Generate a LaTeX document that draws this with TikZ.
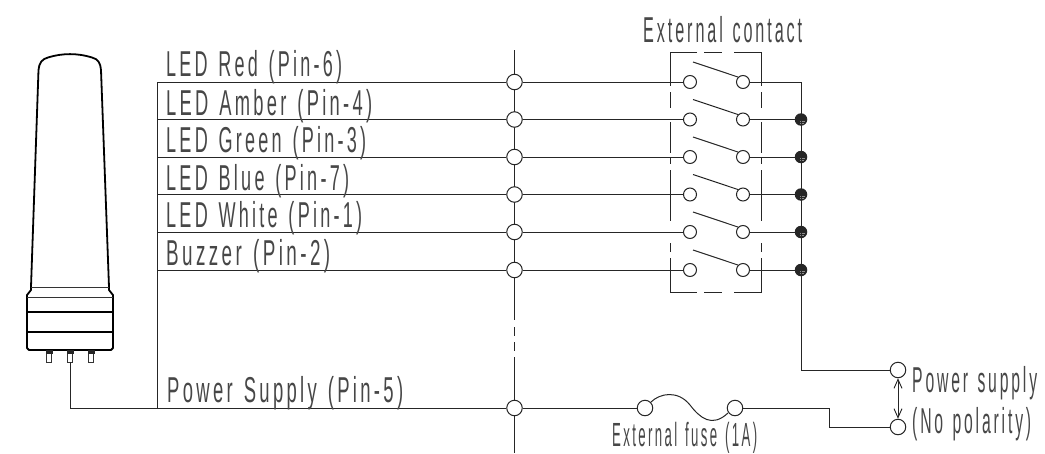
\documentclass[tikz,border=0pt]{standalone}
\usepackage{graphicx}
\usepackage{fontspec}
\setmainfont[FakeStretch=0.5,LetterSpace=9,WordSpace=1.3]{Liberation Sans}
\usetikzlibrary{arrows.meta}
\newcommand{\fitw}[2]{\resizebox{#1pt}{\height}{#2}}
\tikzset{
 wire/.style={line width=1pt,draw=black!85},
 thick line/.style={line width=1.8pt,draw=black},
 thin line/.style={line width=0.8pt,draw=black!80},
 term/.style={circle,draw=black!85,line width=1pt,fill=white,minimum size=13pt,inner sep=0pt},
 bigterm/.style={circle,draw=black!85,line width=1pt,fill=white,minimum size=15.5pt,inner sep=0pt},
 joint/.style={circle,fill=black!85,minimum size=12.5pt,inner sep=0pt},
 lab/.style={anchor=base west,inner sep=0pt,font=\fontsize{36}{36}\selectfont,text=black!72},
}
\begin{document}
\begin{tikzpicture}[x=1pt,y=-1pt]
\useasboundingbox (0,0) rectangle (1045,453);
% lamp
\draw[thick line,line join=round] (31,287) -- (38.5,70) .. controls (39,63) and (42,59) .. (48,57.5) .. controls (62,53) and (78,53) .. (92,57.5) .. controls (98,59) and (100.5,63) .. (101,70) -- (109,287);
\draw[thick line,line join=round] (31,287) -- (31,290) -- (27,295) -- (27,348) -- (29,350) -- (111,350) -- (113,348) -- (113,295) -- (109,290) -- (109,287);
\draw[thin line] (31,287) -- (109,287);
\draw[thin line] (27,297) -- (113,297);
\draw[thick line] (27,312) -- (113,312);
\draw[thick line] (27,332) -- (113,332);
\foreach \px/\pn in {49/a,70/b,91/c}{
  \fill[black!85] (\px-3.5,350) rectangle (\px+3.5,354);
  \draw[thin line] (\px-2.2,354) -- (\px-2.2,362) -- (\px+2.2,362) -- (\px+2.2,354);
}
\coordinate (pin) at (70,362);
% bus
\coordinate (busbot) at (157.5,408);
\coordinate (bustop) at (157.5,82);
\coordinate (ctop) at (514,50);
\coordinate (cbot) at (514,453);
\coordinate (cm1) at (514,320);
\coordinate (cm2) at (514,327);
\coordinate (cm3) at (514,336);
\coordinate (cm4) at (514,342);
\coordinate (cm5) at (514,351);
\coordinate (cm6) at (514,357);
\draw[wire] (ctop) -- (cm1) (cm2) -- (cm3) (cm4) -- (cm5) (cm6) -- (cbot);
\draw[wire] (pin) |- (busbot);
\draw[wire] (bustop) -- (busbot);
% rows
\foreach \n/\y in {1/82,2/119.5,3/157,4/194.5,5/232,6/270}{
  \coordinate (bus\n) at (157.5,\y);
  \node[bigterm] (j\n) at (514.5,\y) {};
  \node[term] (l\n) at (690,\y) {};
  \node[term] (r\n) at (743,\y) {};
  \coordinate (e\n) at (801,\y);
  \draw[wire] (bus\n) -- (j\n);
  \draw[wire] (j\n) -- (l\n);
  \draw[wire] (r\n) -- (e\n);
  \coordinate (sw\n) at (693,\y-20);
  \draw[wire] (sw\n) -- (r\n.north west);
}
\foreach \n in {2,...,6}{ \node[joint] (d\n) at (e\n) {}; }
\foreach \n in {2,...,6}{ \draw[black!45,line width=0.5pt] (e\n)++(-1,1.5) -- ++(5,0) (e\n)++(-1,3.5) -- ++(4,0); }
% external box
\draw[wire] (697,52) -- (670.5,52) -- (670.5,86)
  (670.5,92) -- (670.5,108) (670.5,122) -- (670.5,153) (670.5,158) -- (670.5,164)
  (670.5,170) -- (670.5,221) (670.5,243) -- (670.5,252) (670.5,258) -- (670.5,292) -- (697,292)
  (704,52) -- (722,52) (704,292) -- (722,292)
  (734,52) -- (761,52) -- (761,86) (761,92) -- (761,108) (761,122) -- (761,153) (761,158) -- (761,164)
  (761,170) -- (761,221) (761,243) -- (761,252) (761,258) -- (761,292) -- (734,292);
% supply
\node[bigterm] (pa) at (898,370) {};
\node[bigterm] (pb) at (898,427) {};
\node[bigterm] (jp) at (514.5,408) {};
\node[bigterm] (fa) at (645,408) {};
\node[bigterm] (fb) at (735,408) {};
\draw[wire] (e1) -- (801,370) -- (pa);
\draw[wire] (busbot) -- (jp);
\draw[wire] (jp) -- (fa);
\draw[wire] (fa.north east) .. controls (660,393) and (678,390) .. (690,405) .. controls (700,418) and (712,428) .. (728,413);
\draw[wire] (fb) -- (829,408) -- (829,427) -- (pb);
\draw[line width=0.9pt,draw=black!85,{Straight Barb[length=9pt,width=8pt]}-{Straight Barb[length=9pt,width=8pt]}] (pa) -- (pb);
% labels
\node[lab] (t1) at (166,76) {\fitw{176}{LED Red (Pin-6)}};
\node[lab] (t2) at (166,115) {\fitw{206}{LED Amber (Pin-4)}};
\node[lab] (t3) at (166,152.5) {\fitw{200}{LED Green (Pin-3)}};
\node[lab] (t4) at (166,190) {\fitw{183}{LED Blue (Pin-7)}};
\node[lab] (t5) at (166,227.5) {\fitw{196}{LED White (Pin-1)}};
\node[lab] (t6) at (166,265) {\fitw{164}{Buzzer (Pin-2)}};
\node[lab] (t7) at (167,402) {\fitw{236}{Power Supply (Pin-5)}};
\node[lab] (t8) at (643,42) {\fitw{159}{External contact}};
\node[lab] (t9) at (912,392) {\fitw{125}{Power supply}};
\node[lab] (t10) at (912,433) {\fitw{119}{(No polarity)}};
\node[lab,font=\fontsize{33.5}{33.5}\selectfont] (t11) at (612,446.5) {\fitw{145}{External fuse (1A)}};
\end{tikzpicture}
\end{document}
